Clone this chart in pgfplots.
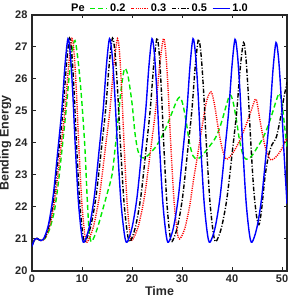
\documentclass[border=0pt]{standalone}
\usepackage{fontspec}
\setmainfont{Liberation Sans}
\usepackage{pgfplots}
\pgfplotsset{compat=1.18}
\definecolor{txt}{HTML}{262626}
\definecolor{pgreen}{RGB}{0,235,0}
\definecolor{pred}{RGB}{255,0,0}
\definecolor{pblue}{RGB}{0,0,255}
\begin{document}
\begin{tikzpicture}
\begin{axis}[
  scale only axis, width=255pt, height=256pt,
  xmin=0, xmax=51, ymin=20, ymax=28,
  xtick={0,10,...,50}, ytick={20,21,...,28},
  tick align=inside, major tick length=3.5pt,
  axis line style={line width=1.3pt, color=txt},
  tick style={line width=1pt, color=txt},
  /pgf/number format/assume math mode=true,
  ticklabel style={font=\bfseries\fontsize{11}{13}\selectfont, text=txt},
  yticklabel style={xshift=-1pt},
  xlabel={Time}, ylabel={Bending Energy},
  label style={font=\bfseries\fontsize{12.5}{14}\selectfont, text=txt},
  xlabel style={yshift=3pt},
  ylabel style={inner sep=0.5pt},
  legend columns=5,
  legend style={at={(0.5,1)}, anchor=south, draw=none, fill=none,
    font=\bfseries\fontsize{11}{13}\selectfont, inner sep=0pt, yshift=0pt,
    /tikz/every even column/.append style={column sep=3pt}},
  legend cell align=left,
  every axis plot/.append style={line width=1.4pt},
]
\addlegendimage{empty legend}\addlegendentry{Pe}
% Pe = 0.2
\addplot[color=pgreen, dash pattern=on 5pt off 3pt, smooth, tension=0.5] coordinates {
(0,20.8) (0.5,20.97) (1.0,21.02) (1.6,20.96) (2.5,21.0)
(3.5,21.3) (4.5,21.9) (5.3,22.8) (6.0,23.8) (6.8,25.0) (7.5,26.2) (8.0,26.85) (8.6,27.2)
(9.2,26.6) (9.7,25.8) (10.1,25.0) (10.6,23.8) (11.0,22.4) (11.4,21.3) (11.8,20.92)
(12.4,21.05) (13.2,21.4) (14.2,21.95) (15.0,22.4) (16.0,23.0) (16.6,23.8) (17.2,24.7) (17.7,25.5) (18.2,26.1) (18.6,26.33)
(19.2,26.1) (20.0,25.25) (20.6,24.3) (21.2,23.75) (21.9,23.55) (22.7,23.55) (23.6,23.68) (24.6,23.85) (25.8,24.15) (27.0,24.55) (28.0,24.95) (28.9,25.3) (29.5,25.43)
(30.1,25.25) (30.8,24.7) (31.5,24.0) (32.2,23.6) (33.0,23.5) (34.0,23.6) (35.0,23.8) (36.0,24.0) (37.0,24.25) (38.0,24.7) (38.9,25.2) (39.6,25.5)
(40.2,25.3) (40.9,24.7) (41.6,24.0) (42.4,23.55) (43.3,23.5) (44.2,23.65) (45.0,23.85) (46.0,24.1) (47.0,24.45) (48.0,24.9) (48.8,25.3) (49.5,25.55)
(50.1,25.1) (50.6,24.4) (51.0,23.85)
};
\addlegendentry{0.2}
% Pe = 0.3
\addplot[color=pred, dash pattern=on 1.1pt off 1.1pt, smooth, tension=0.5] coordinates {
(0,20.8) (0.5,20.97) (1.0,21.02) (1.6,20.96) (2.5,21.0)
(3.6,21.44) (4.7,22.38) (5.8,23.88) (6.63,25.07) (7.34,26.45) (8.0,27.26)
(8.45,26.75) (8.9,25.54) (9.35,23.95) (9.95,22.17) (10.55,21.15) (11.0,20.9)
(12.22,21.35) (13.44,22.3) (14.66,23.83) (15.58,25.03) (16.37,26.43) (17.1,27.26)
(17.54,26.75) (17.97,25.55) (18.41,23.97) (18.99,22.2) (19.57,21.2) (20.0,20.96)
(21.26,21.4) (22.52,22.35) (23.78,23.86) (24.73,25.05) (25.54,26.44) (26.3,27.26)
(26.78,26.76) (27.26,25.57) (27.74,24.0) (28.38,22.25) (29.02,21.25) (29.5,21.0)
(30.5,21.3) (31.5,22.0) (32.3,22.85) (33.0,23.5) (34.0,24.5) (34.9,25.3) (35.8,25.6)
(36.5,25.2) (37.3,24.4) (38.0,23.85) (38.6,23.55) (39.1,23.5) (40.0,23.65) (40.8,23.85)
(41.6,24.1) (42.9,24.6) (43.9,25.04) (44.8,25.37)
(45.6,24.7) (46.6,23.9) (47.6,23.49) (48.3,23.5) (49.0,23.6) (49.9,23.8) (50.6,24.05) (51.0,24.15)
};
\addlegendentry{0.3}
% Pe = 0.5
\addplot[color=black, dash pattern=on 4.5pt off 1.8pt on 1pt off 1.8pt, smooth, tension=0.5] coordinates {
(0,20.8) (0.5,20.97) (1.0,21.02) (1.6,20.96) (2.4,21.0)
(3.42,21.44) (4.44,22.38) (5.46,23.89) (6.23,25.08) (6.89,26.46) (7.5,27.28)
(7.97,26.77) (8.43,25.56) (8.9,23.97) (9.52,22.19) (10.14,21.17) (10.6,20.92)
(11.7,21.37) (12.8,22.32) (13.9,23.85) (14.73,25.05) (15.44,26.45) (16.1,27.28)
(16.63,26.77) (17.15,25.56) (17.68,23.97) (18.38,22.19) (19.08,21.17) (19.6,20.92)
(20.68,21.37) (21.76,22.32) (22.84,23.85) (23.65,25.05) (24.35,26.45) (25.0,27.28)
(25.45,26.77) (25.9,25.56) (26.35,23.97) (26.95,22.19) (27.55,21.17) (28.0,20.92)
(29.06,21.36) (30.12,22.31) (31.18,23.83) (31.98,25.03) (32.66,26.42) (33.3,27.24)
(33.83,26.73) (34.35,25.53) (34.88,23.95) (35.58,22.18) (36.28,21.17) (36.8,20.92)
(37.9,21.36) (39.0,22.29) (40.1,23.78) (40.93,24.96) (41.64,26.33) (42.3,27.14)
(42.77,26.68) (43.23,25.6) (43.7,24.18) (44.32,22.59) (44.94,21.68) (45.4,21.45)
(45.9,21.9) (46.6,22.95) (47.3,23.6) (48.0,23.95) (48.9,24.2) (49.9,24.95) (50.3,25.35) (51.0,25.9)
};
\addlegendentry{0.5}
% Pe = 1.0
\addplot[color=pblue, solid, smooth, tension=0.5] coordinates {
(0,20.77) (0.5,20.98) (1.0,21.02) (1.6,20.96) (2.3,21.0)
(3.28,21.44) (4.26,22.38) (5.24,23.88) (5.98,25.07) (6.61,26.45) (7.2,27.26)
(7.68,26.75) (8.16,25.54) (8.64,23.95) (9.28,22.17) (9.92,21.15) (10.4,20.9)
(11.42,21.35) (12.44,22.3) (13.46,23.83) (14.23,25.03) (14.89,26.43) (15.5,27.26)
(16.03,26.75) (16.55,25.54) (17.08,23.95) (17.78,22.17) (18.48,21.15) (19.0,20.9)
(20.0,21.35) (21.0,22.3) (22.0,23.83) (22.75,25.03) (23.4,26.43) (24.0,27.26)
(24.5,26.75) (24.99,25.54) (25.49,23.95) (26.15,22.17) (26.81,21.15) (27.3,20.9)
(28.28,21.35) (29.26,22.3) (30.24,23.83) (30.98,25.03) (31.61,26.43) (32.2,27.26)
(32.71,26.75) (33.22,25.54) (33.73,23.95) (34.41,22.17) (35.09,21.15) (35.6,20.9)
(36.6,21.34) (37.6,22.29) (38.6,23.82) (39.35,25.02) (40.0,26.42) (40.6,27.24)
(41.11,26.73) (41.62,25.53) (42.13,23.94) (42.81,22.17) (43.49,21.15) (44.0,20.9)
(44.96,21.34) (45.92,22.27) (46.88,23.77) (47.6,24.96) (48.22,26.33) (48.8,27.14)
(49.31,26.64) (49.82,25.46) (50.33,23.9) (51.0,22.1)
};
\addlegendentry{1.0}
\coordinate (sw) at (rel axis cs:0,0);
\coordinate (ne) at (rel axis cs:1,1);
\end{axis}
\pgfresetboundingbox
\path[use as bounding box] ([shift={(-32pt,-29pt)}]sw) rectangle ([shift={(2pt,15pt)}]ne);
\end{tikzpicture}
\end{document}
